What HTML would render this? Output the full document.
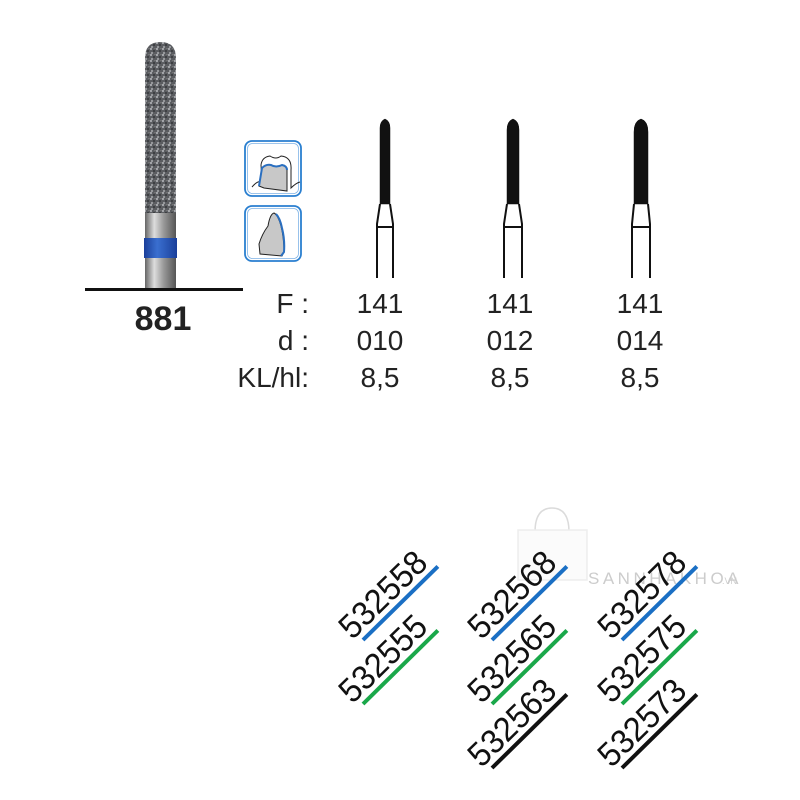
<!DOCTYPE html>
<html><head><meta charset="utf-8"><style>
html,body{margin:0;padding:0;background:#fff;}
svg{display:block;}
text{font-family:"Liberation Sans",sans-serif;}
</style></head><body>
<svg width="800" height="800" viewBox="0 0 800 800" xmlns="http://www.w3.org/2000/svg">
<defs>
<pattern id="dia" width="6" height="6" patternUnits="userSpaceOnUse">
<rect width="6" height="6" fill="#5a5c60"/>
<circle cx="1" cy="1" r="1.1" fill="#a8aaae"/>
<circle cx="4" cy="3" r="0.9" fill="#2a2b2e"/>
<circle cx="2" cy="5" r="0.9" fill="#c0c2c5"/>
<circle cx="5" cy="0.5" r="0.6" fill="#888"/>
</pattern>
<linearGradient id="shank" x1="0" x2="1">
<stop offset="0" stop-color="#666"/><stop offset="0.3" stop-color="#ddd"/><stop offset="0.6" stop-color="#999"/><stop offset="1" stop-color="#555"/>
</linearGradient>
<linearGradient id="band" x1="0" x2="1">
<stop offset="0" stop-color="#1a3f9a"/><stop offset="0.4" stop-color="#3a6fd0"/><stop offset="1" stop-color="#1a3f9a"/>
</linearGradient>
</defs>

<rect x="145" y="205" width="31" height="84" fill="url(#shank)"/>
<rect x="144" y="238" width="33" height="20" fill="url(#band)"/>
<path d="M145 213 L145 58 Q145 42 160.5 42 Q176 42 176 58 L176 213 Z" fill="url(#dia)"/>
<rect x="85" y="288" width="158" height="3" fill="#111"/>
<text x="163" y="330" font-size="34" font-weight="bold" text-anchor="middle" fill="#222">881</text>

<rect x="245" y="141" width="56" height="55" rx="7" fill="#fff" stroke="#2a7fd0" stroke-width="1.8"/>
<rect x="247.5" y="143.5" width="51" height="50" rx="5" fill="none" stroke="#7fb3e6" stroke-width="0.8"/>
<path d="M252 187 Q258 180 262 182 L261 165 Q262 157 270 156 Q276 160 281 156 Q292 157 291 170 L291 188 Q296 183 300 182" fill="none" stroke="#222" stroke-width="1"/>
<path d="M259 186 L262 168 Q266 164 271 165 Q276 168 282 165 Q287 166 287 170 L287 191 L264 188 Z" fill="#c8c8c8" stroke="#222" stroke-width="1"/>
<path d="M259 186 L262 168 Q266 164 271 165 Q276 168 282 165 Q287 166 287 170" fill="none" stroke="#2a6fc0" stroke-width="2"/>
<rect x="245" y="206" width="56" height="55" rx="7" fill="#fff" stroke="#2a7fd0" stroke-width="1.8"/>
<rect x="247.5" y="208.5" width="51" height="50" rx="5" fill="none" stroke="#7fb3e6" stroke-width="0.8"/>
<path d="M260 254 L259 244 Q262 234 268 226 Q270 214 274 213 Q278 215 281 226 Q284 238 284 252 L282 256 Z" fill="#c8c8c8" stroke="#222" stroke-width="1"/>
<path d="M276 214 Q280 218 282 228 Q285 240 284 252 L281 256" fill="none" stroke="#2a6fc0" stroke-width="2"/>

<g stroke="#111" stroke-width="2" fill="none">
<path d="M385 119 Q380 121 380 128 L380 204 L390 204 L390 128 Q390 121 385 119 Z" fill="#111" stroke-width="0.5"/>
<path d="M380 204 L377 224 L377 278 M390 204 L393 224 L393 278 M377 227 L393 227"/>
<path d="M513 119 Q507 121 507 130 L507 204 L519 204 L519 130 Q519 121 513 119 Z" fill="#111" stroke-width="0.5"/>
<path d="M507 204 L504 224 L504 278 M519 204 L522 224 L522 278 M504 227 L522 227"/>
<path d="M641 119 Q634 121 634 132 L634 204 L648 204 L648 132 Q648 121 641 119 Z" fill="#111" stroke-width="0.5"/>
<path d="M634 204 L632 224 L632 278 M648 204 L650 224 L650 278 M632 227 L650 227"/>
</g>

<g font-size="28" fill="#222">
<text x="309" y="313" text-anchor="end">F :</text>
<text x="309" y="350" text-anchor="end">d :</text>
<text x="309" y="387" text-anchor="end">KL/hl:</text>
<g text-anchor="middle">
<text x="380" y="313">141</text><text x="510" y="313">141</text><text x="640" y="313">141</text>
<text x="380" y="350">010</text><text x="510" y="350">012</text><text x="640" y="350">014</text>
<text x="380" y="387">8,5</text><text x="510" y="387">8,5</text><text x="640" y="387">8,5</text>
</g>
</g>

<g opacity="0.35" stroke="#999" fill="none" stroke-width="1.5">
<path d="M535 532 Q535 508 552 508 Q569 508 569 532"/>
<rect x="518" y="530" width="69" height="50" fill="#f4f4f4" stroke="#ccc"/>
</g>
<text x="588" y="584" font-size="17" fill="#ccc" letter-spacing="3.5">SANNHAKHOA</text>
<text x="722" y="584" font-size="9" fill="#ccc">.VN</text>

<g font-size="34" fill="#111">
<g transform="translate(363,640) rotate(-44.5)"><line x1="0" y1="0" x2="105" y2="0" stroke="#1a6fc4" stroke-width="4"/><text x="-8" y="-7" textLength="108" lengthAdjust="spacingAndGlyphs">532558</text></g>
<g transform="translate(363,704) rotate(-44.5)"><line x1="0" y1="0" x2="105" y2="0" stroke="#1aa84a" stroke-width="4"/><text x="-8" y="-7" textLength="108" lengthAdjust="spacingAndGlyphs">532555</text></g>
<g transform="translate(492,640) rotate(-44.5)"><line x1="0" y1="0" x2="105" y2="0" stroke="#1a6fc4" stroke-width="4"/><text x="-8" y="-7" textLength="108" lengthAdjust="spacingAndGlyphs">532568</text></g>
<g transform="translate(492,704) rotate(-44.5)"><line x1="0" y1="0" x2="105" y2="0" stroke="#1aa84a" stroke-width="4"/><text x="-8" y="-7" textLength="108" lengthAdjust="spacingAndGlyphs">532565</text></g>
<g transform="translate(492,768) rotate(-44.5)"><line x1="0" y1="0" x2="105" y2="0" stroke="#111" stroke-width="4"/><text x="-8" y="-7" textLength="108" lengthAdjust="spacingAndGlyphs">532563</text></g>
<g transform="translate(622,640) rotate(-44.5)"><line x1="0" y1="0" x2="105" y2="0" stroke="#1a6fc4" stroke-width="4"/><text x="-8" y="-7" textLength="108" lengthAdjust="spacingAndGlyphs">532578</text></g>
<g transform="translate(622,704) rotate(-44.5)"><line x1="0" y1="0" x2="105" y2="0" stroke="#1aa84a" stroke-width="4"/><text x="-8" y="-7" textLength="108" lengthAdjust="spacingAndGlyphs">532575</text></g>
<g transform="translate(622,768) rotate(-44.5)"><line x1="0" y1="0" x2="105" y2="0" stroke="#111" stroke-width="4"/><text x="-8" y="-7" textLength="108" lengthAdjust="spacingAndGlyphs">532573</text></g>
</g>
</svg>
</body></html>
